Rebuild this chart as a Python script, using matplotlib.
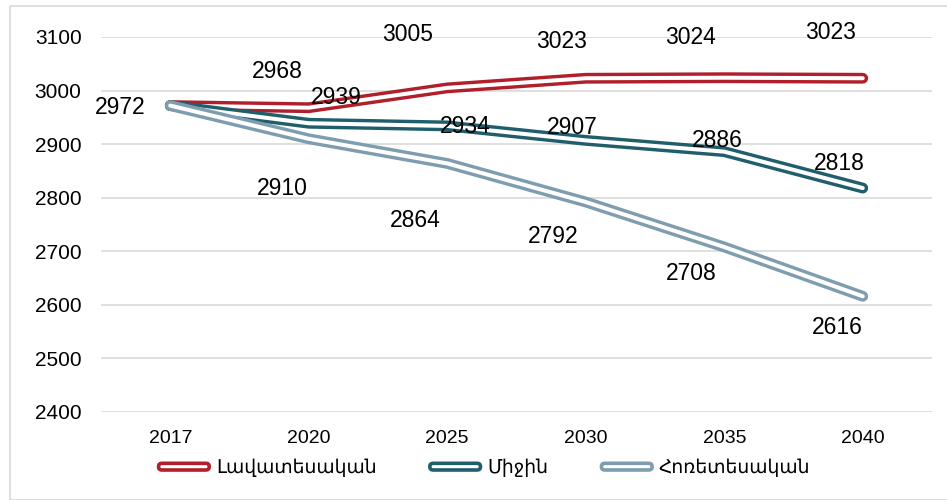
import numpy as np
import matplotlib
matplotlib.use('Agg')
import matplotlib.pyplot as plt
from matplotlib.patches import Rectangle, FancyBboxPatch

plt.rcParams['font.family'] = ['Liberation Sans', 'DejaVu Sans']

# data
years = ['2017', '2020', '2025', '2030', '2035', '2040']
optimistic = [2972, 2968, 3005, 3023, 3024, 3023]
medium = [2972, 2939, 2934, 2907, 2886, 2818]
pessimistic = [2972, 2910, 2864, 2792, 2708, 2616]
series_names = ['Լավատեսական', 'Միջին', 'Հոռետեսական']

colors = ['#B01F2A', '#215E6C', '#7E9DAE']

# label offsets in pixels (dx, dy)
label_offsets = [
    [(-50, -2), (-31, 36), (-40, 53), (-24, 37), (-34, 40), (-32, 46)],
    [None, (28, 26), (18, -1), (-13, 13), (-7, 11), (-23, 25)],
    [None, (-26, -50), (-32, -57), (-33, -35), (-33, -27), (-25, -31)],
]


class DoubleLineHandler:
    """legend icon: rounded outline box, looks like the double line"""
    def __init__(self, color):
        self.color = color

    def legend_artist(self, legend, orig_handle, fontsize, handlebox):
        w, h = handlebox.width, handlebox.height
        box = FancyBboxPatch((handlebox.xdescent + 2, handlebox.ydescent + h / 2 - 2.4),
                             w - 4, 4.8, boxstyle='round,pad=0,rounding_size=2.4',
                             facecolor='white', edgecolor=self.color, lw=2.6,
                             transform=handlebox.get_transform())
        handlebox.add_artist(box)
        return box


fig = plt.figure(figsize=(9.47, 5.0), dpi=100)
ax = fig.add_axes([101 / 947, 1 - 412 / 500, (932 - 101) / 947, (412 - 37) / 500])

# light border round the chart area
fig.patches.append(Rectangle((10 / 947, 0), 1, 1 - 6 / 500, transform=fig.transFigure,
                             fill=False, edgecolor='#D9D9D9', linewidth=1.2, zorder=0))

x = np.arange(len(years))
all_series = [optimistic, medium, pessimistic]
lines = []
# red first, grey last (grey ends up on top at the shared start point)
for i in range(3):
    vals = all_series[i]
    ln, = ax.plot(x, vals, color=colors[i], lw=7.8, solid_capstyle='round',
                  solid_joinstyle='round', clip_on=False, zorder=3)
    ax.plot(x, vals, color='white', lw=2.9, solid_capstyle='round',
            solid_joinstyle='round', clip_on=False, zorder=3)
    lines.append(ln)

for i, vals in enumerate(all_series):
    for j, v in enumerate(vals):
        off = label_offsets[i][j]
        if off is None:
            continue
        ax.annotate(str(v), (x[j], v), xytext=off, textcoords='offset pixels',
                    ha='center', va='center', fontsize=16.5, color='black', zorder=5)

ax.set_xlim(-0.5, len(years) - 0.5)
ax.set_ylim(2400, 3100)
ax.set_yticks(np.arange(2400, 3101, 100))
ax.set_xticks(x)
ax.set_xticklabels(years)
ax.grid(axis='y', color='#D9D9D9', lw=1.2)
ax.set_axisbelow(True)
for s in ax.spines.values():
    s.set_visible(False)
ax.tick_params(axis='both', length=0)
ax.tick_params(axis='y', pad=14, labelsize=15)
ax.tick_params(axis='x', pad=13, labelsize=14)

fig.legend(lines, series_names, loc='center', bbox_to_anchor=(0.51, 1 - 468 / 500),
           ncol=3, frameon=False, fontsize=13.5, handlelength=3.0, handletextpad=0.2,
           columnspacing=2.7,
           handler_map={ln: DoubleLineHandler(c) for ln, c in zip(lines, colors)})

fig.savefig('out.png', dpi=100)
